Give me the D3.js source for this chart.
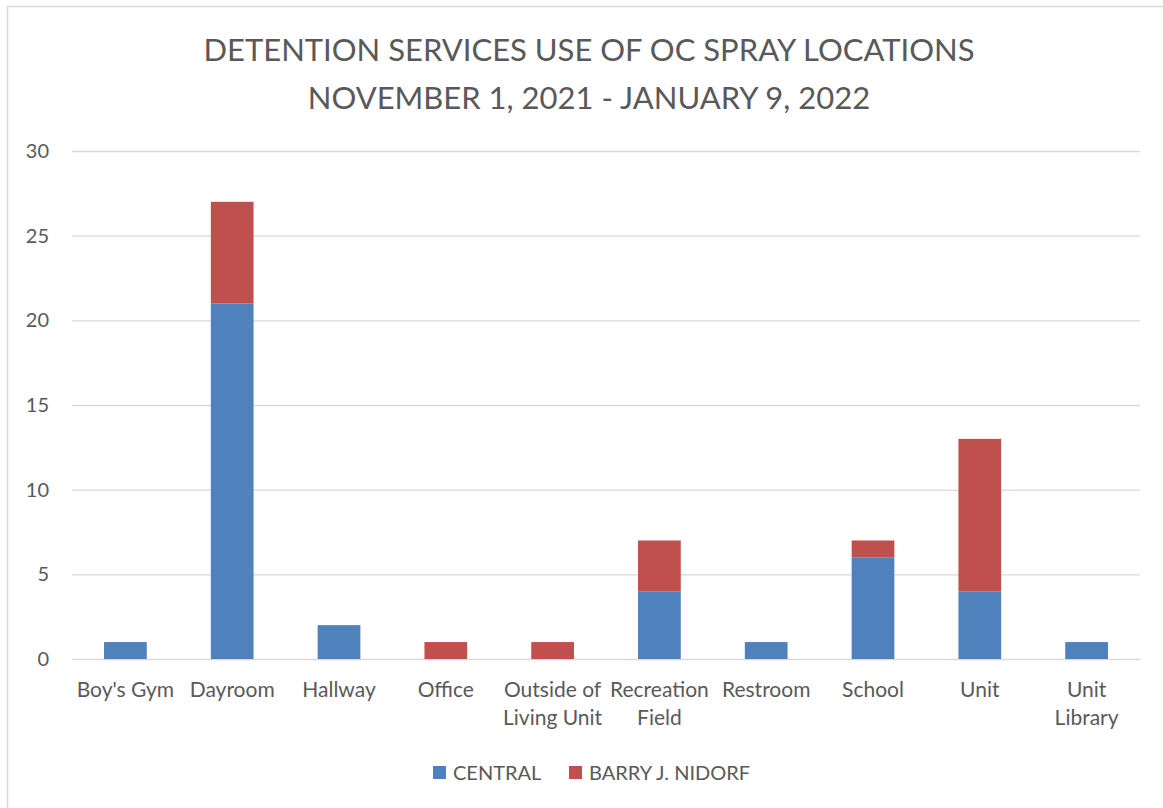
<!DOCTYPE html>
<html lang="en">
<head>
  <meta charset="UTF-8">
  <title>OC Spray Locations</title>
  <style>
    body { margin: 0; background: #fff; overflow: hidden; }
    svg { display: block; }
    text { font-family: Lato, "Open Sans", sans-serif; fill: #595959; }
  </style>
</head>
<body>
  <div id="chart"></div>
  <script src="https://d3js.org/d3.v7.min.js"></script>
  <script>
    const SVGWIDTH = 1163;
    const SVGHEIGHT = 808;
    const margin = {top: 151, right: 23, bottom: 149, left: 72};

    const categories = ["Boy's Gym", "Dayroom", "Hallway", "Office", "Outside of\nLiving Unit",
      "Recreation\nField", "Restroom", "School", "Unit", "Unit\nLibrary"];
    const central = [1, 21, 2, 0, 0, 4, 1, 6, 4, 1];
    const nidorf = [0, 6, 0, 1, 1, 3, 0, 1, 9, 0];
    const seriesNames = ["CENTRAL", "BARRY J. NIDORF"];
    const colors = ["#4f81bd", "#c0504d"];
    const yTicks = [0, 5, 10, 15, 20, 25, 30];
    const titleLines = ["DETENTION SERVICES USE OF OC SPRAY LOCATIONS", "NOVEMBER 1, 2021 - JANUARY 9, 2022"];

    const table = categories.map((c, i) => ({cat: c, CENTRAL: central[i], "BARRY J. NIDORF": nidorf[i]}));
    const stacked = d3.stack().keys(seriesNames)(table);

    // scales work in page coordinates, no translated group
    const xScale = d3.scaleBand()
      .domain(categories)
      .range([margin.left, SVGWIDTH - margin.right])
      .paddingInner(0.6)
      .paddingOuter(0.3);

    const yScale = d3.scaleLinear()
      .domain([0, 30])
      .range([SVGHEIGHT - margin.bottom, margin.top]);

    const svg = d3.select('#chart')
      .append('svg')
      .attr('width', SVGWIDTH)
      .attr('height', SVGHEIGHT);

    // chart frame (left and top edges only are visible)
    svg.append('path')
      .attr('d', `M7.5,${SVGHEIGHT} V6.5 H${SVGWIDTH}`)
      .attr('fill', 'none')
      .attr('stroke', '#d9d9d9')
      .attr('stroke-width', 1.5);

    // title
    svg.append('g').selectAll('text')
      .data(titleLines)
      .enter()
      .append('text')
      .attr('x', 589)
      .attr('y', (d, i) => 61 + i * 48)
      .attr('text-anchor', 'middle')
      .style('font-size', '31px')
      .text(d => d);

    // gridlines
    svg.append('g').selectAll('line')
      .data(yTicks)
      .enter()
      .append('line')
      .attr('x1', margin.left).attr('x2', SVGWIDTH - margin.right)
      .attr('y1', d => yScale(d) + 0.5).attr('y2', d => yScale(d) + 0.5)
      .attr('stroke', '#d9d9d9')
      .attr('stroke-width', 1.3);

    // y labels
    svg.append('g').selectAll('text')
      .data(yTicks)
      .enter()
      .append('text')
      .attr('x', margin.left - 23)
      .attr('y', d => yScale(d) + 7)
      .attr('text-anchor', 'end')
      .style('font-size', '20px')
      .text(d => d);

    // bars
    svg.selectAll('g.series')
      .data(stacked)
      .enter()
      .append('g')
      .attr('class', 'series')
      .attr('fill', (d, i) => colors[i])
      .selectAll('rect')
      .data(d => d)
      .enter()
      .append('rect')
      .attr('x', d => xScale(d.data.cat))
      .attr('width', xScale.bandwidth())
      .attr('y', d => yScale(d[1]))
      .attr('height', d => yScale(d[0]) - yScale(d[1]));

    // x labels (two-line categories split on \n)
    const xLabels = svg.append('g').selectAll('text')
      .data(categories)
      .enter()
      .append('text')
      .attr('text-anchor', 'middle')
      .style('font-size', '21px');
    xLabels.each(function(d) {
      const cx = xScale(d) + xScale.bandwidth() / 2;
      d.split('\n').forEach((line, i) => {
        d3.select(this).append('tspan')
          .attr('x', cx)
          .attr('y', yScale(0) + 38 + i * 28)
          .text(line);
      });
    });

    // legend
    const legendX = [433, 569];
    const legend = svg.append('g').selectAll('g')
      .data(seriesNames)
      .enter()
      .append('g')
      .attr('transform', (d, i) => `translate(${legendX[i]},766)`);
    legend.append('rect')
      .attr('width', 13).attr('height', 13)
      .attr('fill', (d, i) => colors[i]);
    legend.append('text')
      .attr('x', 20).attr('y', 14)
      .style('font-size', '20px')
      .text(d => d);
  </script>
</body>
</html>
